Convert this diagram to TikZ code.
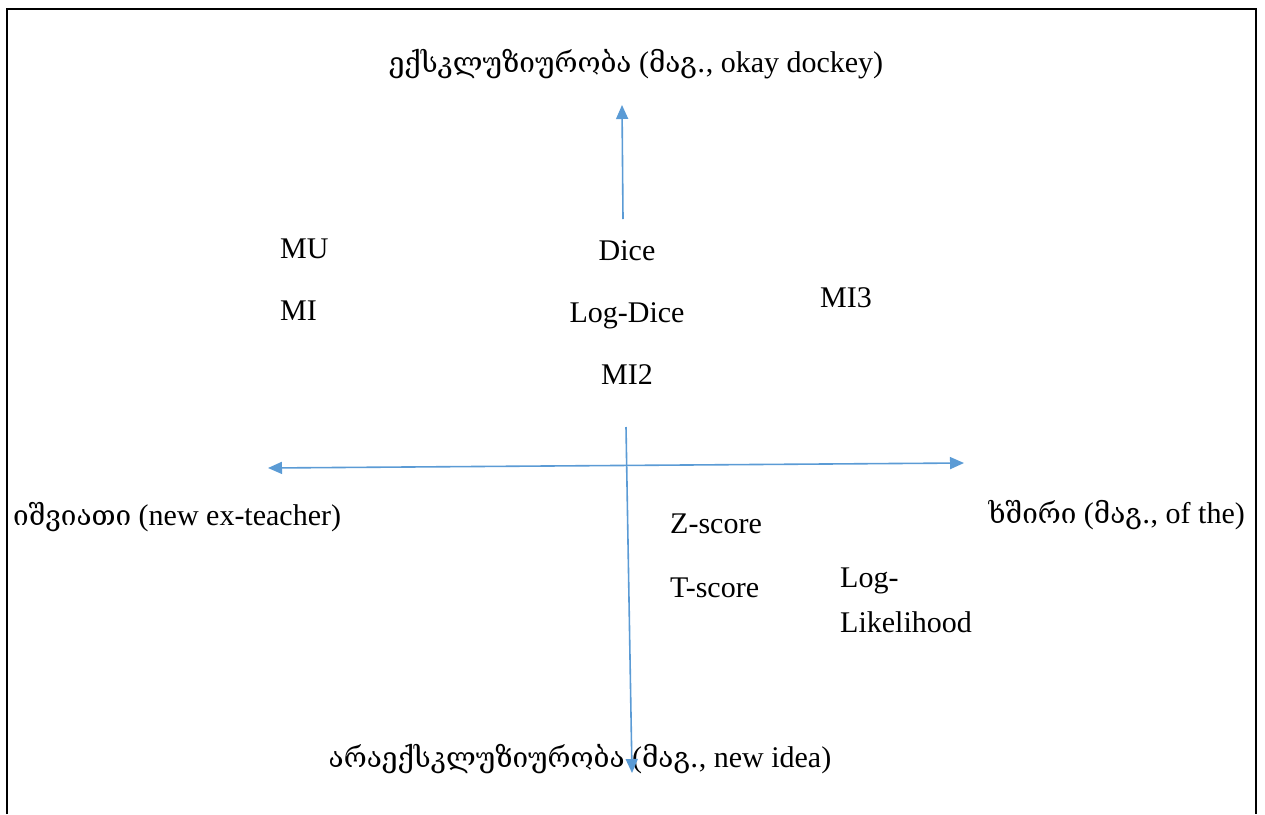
\documentclass[tikz,border=0pt]{standalone}
\usepackage{fontspec}
\setmainfont{Liberation Serif}
\newfontfamily\geo[Scale=0.93]{DejaVu Serif}
\usetikzlibrary{arrows.meta}
\definecolor{axisblue}{HTML}{5B9BD5}
\tikzset{
  lbl/.style={font=\fontsize{30}{35}\selectfont, inner sep=0pt, anchor=base west},
  lblc/.style={font=\fontsize{30}{35}\selectfont, inner sep=0pt, anchor=base},
  axis/.style={draw=axisblue, line width=1.6pt, -{Triangle[length=14pt,width=12pt]}},
  frame/.style={draw=black, line width=2pt}
}
\begin{document}
\begin{tikzpicture}[x=1pt,y=-1pt]
\useasboundingbox (0,0) rectangle (1265,814);
\draw[frame] (7,814) -- (7,9) -- (1256,9) -- (1256,814);
% texts
\node[lblc] (top) at (636,72) {{\geo ექსკლუზიურობა} ({\geo მაგ.}, okay dockey)};
\node[lblc] (bot) at (580,767) {{\geo არაექსკლუზიურობა} ({\geo მაგ.}, new idea)};
\node[lbl] (left) at (13,525) {{\geo იშვიათი} (new ex-teacher)};
\node[lbl, anchor=base east] (right) at (1245,523) {{\geo ხშირი} ({\geo მაგ.}, of the)};
\node[lblc] (dice) at (627,260) {Dice};
\node[lblc] (logdice) at (627,322) {Log-Dice};
\node[lblc] (mitwo) at (627,384) {MI2};
\node[lbl] (mu) at (280,258) {MU};
\node[lbl] (mi) at (280,320) {MI};
\node[lbl] (mithree) at (820,307) {MI3};
\node[lbl] (z) at (670,533) {Z-score};
\node[lbl] (t) at (670,597) {T-score};
\node[lbl] (loglik) at (840,587) {Log-};
\node[lbl] (loglik2) at (840,632) {Likelihood};
% axes
\coordinate (upS) at (623,219);
\coordinate (upE) at (622,105);
\coordinate (hL) at (268,468);
\coordinate (hR) at (964,463);
\coordinate (vS) at (626,427);
\coordinate (vE) at (632,773);
\draw[axis] (upS) -- (upE);
\draw[axis, {Triangle[length=14pt,width=12pt]}-{Triangle[length=14pt,width=12pt]}] (hL) -- (hR);
\draw[axis] (vS) -- (vE);
\end{tikzpicture}
\end{document}
